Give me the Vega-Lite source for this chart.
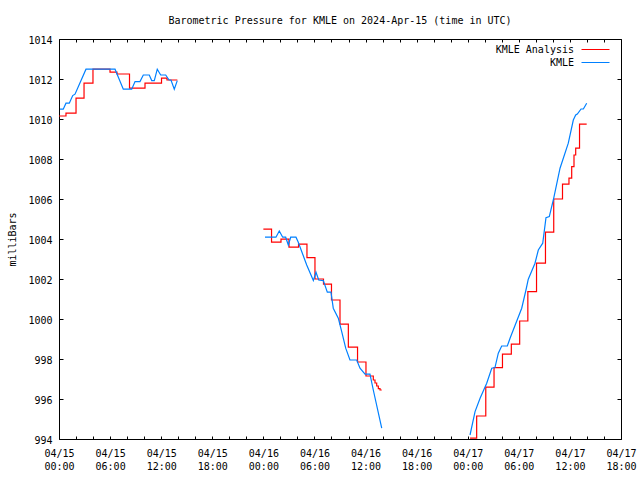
{
  "$schema": "https://vega.github.io/schema/vega-lite/v6.json",
  "width": 562,
  "height": 400,
  "autosize": "none",
  "padding": {"left": 59, "top": 39, "right": 19, "bottom": 41},
  "background": "white",
  "title": {"text": "Barometric Pressure for KMLE on 2024-Apr-15 (time in UTC)", "font": "DejaVu Sans Mono", "fontSize": 10, "fontWeight": "normal", "frame": "group", "anchor": "middle", "offset": 9, "color": "black"},
  "config": {
    "view": {"stroke": "black", "strokeWidth": 1},
    "axis": {"labelFont": "DejaVu Sans Mono", "labelFontSize": 10, "titleFont": "DejaVu Sans Mono", "titleFontSize": 10, "titleFontWeight": "normal", "tickColor": "black", "tickWidth": 1, "labelColor": "black", "titleColor": "black", "grid": false, "domain": false}
  },
  "datasets": {
    "ana": [
      {"s": "KMLE Analysis", "g": 1, "h": 0, "p": 1010.15},
      {"s": "KMLE Analysis", "g": 1, "h": 0.82, "p": 1010.29},
      {"s": "KMLE Analysis", "g": 1, "h": 2.0, "p": 1011.04},
      {"s": "KMLE Analysis", "g": 1, "h": 2.94, "p": 1011.79},
      {"s": "KMLE Analysis", "g": 1, "h": 3.99, "p": 1012.49},
      {"s": "KMLE Analysis", "g": 1, "h": 5.99, "p": 1012.34},
      {"s": "KMLE Analysis", "g": 1, "h": 6.81, "p": 1012.25},
      {"s": "KMLE Analysis", "g": 1, "h": 8.28, "p": 1011.54},
      {"s": "KMLE Analysis", "g": 1, "h": 10.1, "p": 1011.79},
      {"s": "KMLE Analysis", "g": 1, "h": 12.04, "p": 1012.04},
      {"s": "KMLE Analysis", "g": 1, "h": 12.68, "p": 1011.95},
      {"s": "KMLE Analysis", "g": 1, "h": 13.9, "p": 1011.95},
      {"s": "KMLE Analysis", "g": 2, "h": 24.0, "p": 1004.49},
      {"s": "KMLE Analysis", "g": 2, "h": 24.96, "p": 1003.84},
      {"s": "KMLE Analysis", "g": 2, "h": 26.07, "p": 1003.99},
      {"s": "KMLE Analysis", "g": 2, "h": 27.01, "p": 1003.59},
      {"s": "KMLE Analysis", "g": 2, "h": 28.13, "p": 1003.74},
      {"s": "KMLE Analysis", "g": 2, "h": 29.12, "p": 1003.07},
      {"s": "KMLE Analysis", "g": 2, "h": 30.06, "p": 1002.0},
      {"s": "KMLE Analysis", "g": 2, "h": 31.06, "p": 1001.74},
      {"s": "KMLE Analysis", "g": 2, "h": 32.0, "p": 1000.95},
      {"s": "KMLE Analysis", "g": 2, "h": 33.0, "p": 999.74},
      {"s": "KMLE Analysis", "g": 2, "h": 33.98, "p": 998.59},
      {"s": "KMLE Analysis", "g": 2, "h": 35.06, "p": 997.85},
      {"s": "KMLE Analysis", "g": 2, "h": 36.05, "p": 997.15},
      {"s": "KMLE Analysis", "g": 2, "h": 36.91, "p": 996.95},
      {"s": "KMLE Analysis", "g": 2, "h": 37.11, "p": 996.8},
      {"s": "KMLE Analysis", "g": 2, "h": 37.31, "p": 996.65},
      {"s": "KMLE Analysis", "g": 2, "h": 37.5, "p": 996.52},
      {"s": "KMLE Analysis", "g": 2, "h": 37.7, "p": 996.45},
      {"s": "KMLE Analysis", "g": 2, "h": 37.9, "p": 996.45},
      {"s": "KMLE Analysis", "g": 3, "h": 48.27, "p": 994.04},
      {"s": "KMLE Analysis", "g": 3, "h": 49.05, "p": 995.15},
      {"s": "KMLE Analysis", "g": 3, "h": 50.12, "p": 996.59},
      {"s": "KMLE Analysis", "g": 3, "h": 51.09, "p": 997.57},
      {"s": "KMLE Analysis", "g": 3, "h": 52.08, "p": 998.24},
      {"s": "KMLE Analysis", "g": 3, "h": 53.12, "p": 998.74},
      {"s": "KMLE Analysis", "g": 3, "h": 54.1, "p": 999.9},
      {"s": "KMLE Analysis", "g": 3, "h": 55.06, "p": 1001.37},
      {"s": "KMLE Analysis", "g": 3, "h": 56.08, "p": 1002.79},
      {"s": "KMLE Analysis", "g": 3, "h": 57.13, "p": 1004.34},
      {"s": "KMLE Analysis", "g": 3, "h": 58.1, "p": 1006.0},
      {"s": "KMLE Analysis", "g": 3, "h": 59.13, "p": 1006.74},
      {"s": "KMLE Analysis", "g": 3, "h": 59.89, "p": 1007.04},
      {"s": "KMLE Analysis", "g": 3, "h": 60.21, "p": 1007.62},
      {"s": "KMLE Analysis", "g": 3, "h": 60.48, "p": 1008.2},
      {"s": "KMLE Analysis", "g": 3, "h": 60.68, "p": 1008.54},
      {"s": "KMLE Analysis", "g": 3, "h": 61.13, "p": 1009.74},
      {"s": "KMLE Analysis", "g": 3, "h": 61.97, "p": 1009.74}
    ],
    "obs": [
      {"s": "KMLE", "g": 1, "h": 0.12, "p": 1010.49},
      {"s": "KMLE", "g": 1, "h": 0.5, "p": 1010.49},
      {"s": "KMLE", "g": 1, "h": 0.82, "p": 1010.79},
      {"s": "KMLE", "g": 1, "h": 1.21, "p": 1010.79},
      {"s": "KMLE", "g": 1, "h": 1.61, "p": 1011.17},
      {"s": "KMLE", "g": 1, "h": 1.88, "p": 1011.24},
      {"s": "KMLE", "g": 1, "h": 3.17, "p": 1012.49},
      {"s": "KMLE", "g": 1, "h": 6.58, "p": 1012.49},
      {"s": "KMLE", "g": 1, "h": 7.55, "p": 1011.49},
      {"s": "KMLE", "g": 1, "h": 8.54, "p": 1011.49},
      {"s": "KMLE", "g": 1, "h": 8.93, "p": 1011.87},
      {"s": "KMLE", "g": 1, "h": 9.51, "p": 1011.87},
      {"s": "KMLE", "g": 1, "h": 9.9, "p": 1012.2},
      {"s": "KMLE", "g": 1, "h": 10.6, "p": 1012.2},
      {"s": "KMLE", "g": 1, "h": 10.89, "p": 1011.92},
      {"s": "KMLE", "g": 1, "h": 11.19, "p": 1011.92},
      {"s": "KMLE", "g": 1, "h": 11.54, "p": 1012.49},
      {"s": "KMLE", "g": 1, "h": 11.94, "p": 1012.2},
      {"s": "KMLE", "g": 1, "h": 12.53, "p": 1012.2},
      {"s": "KMLE", "g": 1, "h": 12.92, "p": 1011.95},
      {"s": "KMLE", "g": 1, "h": 13.15, "p": 1011.95},
      {"s": "KMLE", "g": 1, "h": 13.54, "p": 1011.49},
      {"s": "KMLE", "g": 1, "h": 13.89, "p": 1011.92},
      {"s": "KMLE", "g": 2, "h": 24.19, "p": 1004.09},
      {"s": "KMLE", "g": 2, "h": 25.48, "p": 1004.09},
      {"s": "KMLE", "g": 2, "h": 25.87, "p": 1004.4},
      {"s": "KMLE", "g": 2, "h": 26.27, "p": 1004.09},
      {"s": "KMLE", "g": 2, "h": 26.62, "p": 1004.09},
      {"s": "KMLE", "g": 2, "h": 26.93, "p": 1003.7},
      {"s": "KMLE", "g": 2, "h": 27.21, "p": 1004.09},
      {"s": "KMLE", "g": 2, "h": 27.83, "p": 1004.09},
      {"s": "KMLE", "g": 2, "h": 28.1, "p": 1003.84},
      {"s": "KMLE", "g": 2, "h": 29.09, "p": 1002.7},
      {"s": "KMLE", "g": 2, "h": 29.87, "p": 1001.92},
      {"s": "KMLE", "g": 2, "h": 30.18, "p": 1002.34},
      {"s": "KMLE", "g": 2, "h": 30.5, "p": 1001.95},
      {"s": "KMLE", "g": 2, "h": 31.04, "p": 1001.92},
      {"s": "KMLE", "g": 2, "h": 31.51, "p": 1001.34},
      {"s": "KMLE", "g": 2, "h": 31.94, "p": 1001.34},
      {"s": "KMLE", "g": 2, "h": 32.21, "p": 1000.54},
      {"s": "KMLE", "g": 2, "h": 32.8, "p": 1000.04},
      {"s": "KMLE", "g": 2, "h": 33.2, "p": 999.37},
      {"s": "KMLE", "g": 2, "h": 33.67, "p": 998.54},
      {"s": "KMLE", "g": 2, "h": 34.17, "p": 997.95},
      {"s": "KMLE", "g": 2, "h": 34.96, "p": 997.95},
      {"s": "KMLE", "g": 2, "h": 35.35, "p": 997.54},
      {"s": "KMLE", "g": 2, "h": 35.94, "p": 997.24},
      {"s": "KMLE", "g": 2, "h": 36.52, "p": 997.24},
      {"s": "KMLE", "g": 2, "h": 36.91, "p": 996.45},
      {"s": "KMLE", "g": 2, "h": 37.9, "p": 994.54},
      {"s": "KMLE", "g": 3, "h": 48.27, "p": 994.2},
      {"s": "KMLE", "g": 3, "h": 48.86, "p": 995.37},
      {"s": "KMLE", "g": 3, "h": 49.45, "p": 996.04},
      {"s": "KMLE", "g": 3, "h": 50.23, "p": 996.79},
      {"s": "KMLE", "g": 3, "h": 50.82, "p": 997.54},
      {"s": "KMLE", "g": 3, "h": 51.2, "p": 997.57},
      {"s": "KMLE", "g": 3, "h": 51.59, "p": 998.29},
      {"s": "KMLE", "g": 3, "h": 51.99, "p": 998.65},
      {"s": "KMLE", "g": 3, "h": 52.65, "p": 998.65},
      {"s": "KMLE", "g": 3, "h": 52.97, "p": 999.04},
      {"s": "KMLE", "g": 3, "h": 54.34, "p": 1000.54},
      {"s": "KMLE", "g": 3, "h": 54.84, "p": 1001.45},
      {"s": "KMLE", "g": 3, "h": 55.11, "p": 1001.99},
      {"s": "KMLE", "g": 3, "h": 55.9, "p": 1002.79},
      {"s": "KMLE", "g": 3, "h": 56.29, "p": 1003.45},
      {"s": "KMLE", "g": 3, "h": 56.81, "p": 1003.79},
      {"s": "KMLE", "g": 3, "h": 57.19, "p": 1005.07},
      {"s": "KMLE", "g": 3, "h": 57.58, "p": 1005.12},
      {"s": "KMLE", "g": 3, "h": 58.05, "p": 1005.95},
      {"s": "KMLE", "g": 3, "h": 58.84, "p": 1007.54},
      {"s": "KMLE", "g": 3, "h": 59.81, "p": 1008.79},
      {"s": "KMLE", "g": 3, "h": 60.4, "p": 1009.95},
      {"s": "KMLE", "g": 3, "h": 60.68, "p": 1010.2},
      {"s": "KMLE", "g": 3, "h": 60.87, "p": 1010.25},
      {"s": "KMLE", "g": 3, "h": 61.31, "p": 1010.5},
      {"s": "KMLE", "g": 3, "h": 61.58, "p": 1010.5},
      {"s": "KMLE", "g": 3, "h": 61.97, "p": 1010.79}
    ]
  },
  "resolve": {"axis": {"x": "independent", "y": "independent"}},
  "layer": [
    {
      "data": {"name": "ana"},
      "mark": {"type": "line", "interpolate": "step-after", "strokeWidth": 1.2},
      "encoding": {
        "x": {"field": "h", "type": "quantitative", "scale": {"domain": [0, 66], "nice": false, "zero": false},
          "axis": {"orient": "bottom", "values": [0, 6, 12, 18, 24, 30, 36, 42, 48, 54, 60, 66], "ticks": false, "labelPadding": 9, "labelLineHeight": 13, "labelFlush": false, "labelOverlap": false, "labelExpr": "['04/' + (15 + floor(datum.value / 24)), (datum.value % 24 < 10 ? '0' : '') + (datum.value % 24) + ':00']", "title": null}},
        "y": {"field": "p", "type": "quantitative", "scale": {"domain": [994, 1014], "nice": false, "zero": false},
          "axis": {"orient": "left", "values": [994, 996, 998, 1000, 1002, 1004, 1006, 1008, 1010, 1012, 1014], "format": "d", "ticks": false, "labelPadding": 7, "labelOffset": 1, "labelOverlap": false, "labelFlush": false, "title": "milliBars", "titleX": -47, "titleY": 200, "titleAngle": 270, "titleAlign": "center", "titleBaseline": "middle"}},
        "color": {"field": "s", "type": "nominal", "scale": {"domain": ["KMLE Analysis", "KMLE"], "range": ["#ff0000", "#0080ff"]},
          "legend": {"orient": "none", "legendX": 522, "legendY": 5, "title": null, "padding": 0, "symbolType": "M-1,0H4.6", "symbolSize": 100, "symbolStrokeWidth": 1, "symbolOpacity": 1, "labelAlign": "right", "labelOffset": -18, "labelFont": "DejaVu Sans Mono", "labelFontSize": 10, "labelColor": "black", "rowPadding": 2}},
        "detail": {"field": "g", "type": "nominal"}
      }
    },
    {
      "data": {"name": "obs"},
      "mark": {"type": "line", "strokeWidth": 1.2},
      "encoding": {
        "x": {"field": "h", "type": "quantitative", "scale": {"domain": [0, 66], "nice": false, "zero": false},
          "axis": {"orient": "top", "values": [0, 2, 4, 6, 8, 10, 12, 14, 16, 18, 20, 22, 24, 26, 28, 30, 32, 34, 36, 38, 40, 42, 44, 46, 48, 50, 52, 54, 56, 58, 60, 62, 64, 66], "labels": false, "tickSize": -3, "title": null}},
        "y": {"field": "p", "type": "quantitative", "scale": {"domain": [994, 1014], "nice": false, "zero": false},
          "axis": {"orient": "right", "values": [994, 996, 998, 1000, 1002, 1004, 1006, 1008, 1010, 1012, 1014], "labels": false, "tickSize": -4, "title": null}},
        "color": {"field": "s", "type": "nominal", "scale": {"domain": ["KMLE Analysis", "KMLE"], "range": ["#ff0000", "#0080ff"]}},
        "detail": {"field": "g", "type": "nominal"}
      }
    },
    {
      "data": {"name": "obs"},
      "mark": {"type": "point", "opacity": 0},
      "encoding": {
        "x": {"field": "h", "type": "quantitative", "scale": {"domain": [0, 66], "nice": false, "zero": false},
          "axis": {"orient": "bottom", "values": [0, 2, 4, 6, 8, 10, 12, 14, 16, 18, 20, 22, 24, 26, 28, 30, 32, 34, 36, 38, 40, 42, 44, 46, 48, 50, 52, 54, 56, 58, 60, 62, 64, 66], "labels": false, "tickSize": -3, "title": null}},
        "y": {"field": "p", "type": "quantitative", "scale": {"domain": [994, 1014], "nice": false, "zero": false},
          "axis": {"orient": "left", "values": [994, 996, 998, 1000, 1002, 1004, 1006, 1008, 1010, 1012, 1014], "labels": false, "tickSize": -4, "title": null}}
      }
    }
  ]
}
